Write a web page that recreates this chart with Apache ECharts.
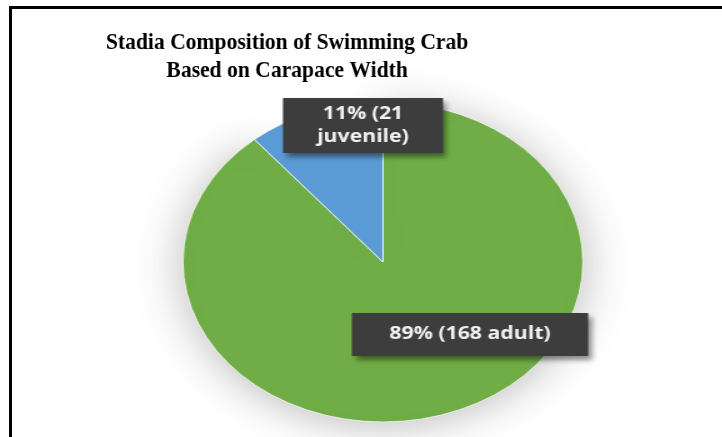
<!DOCTYPE html>
<html>
<head>
<meta charset="utf-8">
<script src="https://cdn.jsdelivr.net/npm/echarts@6/dist/echarts.min.js"></script>
<style>
  html, body { margin: 0; padding: 0; background: #fff; }
  #wrap { position: relative; width: 722px; height: 437px; overflow: hidden; }
  #frame { position: absolute; left: 9px; top: 6px; width: 760px; height: 480px;
           border-left: 3px solid #000; border-top: 3px solid #000; }
  /* the source picture is stretched sideways, so the pie is drawn wider than tall */
  #pie { position: absolute; left: 0; top: 0; width: 578px; height: 437px;
         transform: scaleX(1.25); transform-origin: 0 0; }
  /* title type in the source is tall and narrow */
  #title { position: absolute; left: 0; top: 0; width: 802px; height: 437px; pointer-events: none;
           transform: scaleX(0.9); transform-origin: 0 0; }
</style>
</head>
<body>
<div id="wrap">
  <div id="frame"></div>
  <div id="pie"></div>
  <div id="title"></div>
</div>
<script>
// data
var stages = ['adult', 'juvenile'];
var counts = [168, 21];
var colors = ['#70AD47', '#5B9BD5'];
var titleText = 'Stadia Composition of Swimming Crab\nBased on Carapace Width';

var total = counts.reduce(function (a, b) { return a + b; }, 0);

var pieData = stages.map(function (name, i) {
  var item = { name: name, value: counts[i], itemStyle: { color: colors[i] } };
  if (i === 0) {
    item.itemStyle.shadowBlur = 40;
    item.itemStyle.shadowColor = 'rgba(0,0,0,0.28)';
    item.itemStyle.shadowOffsetX = 0;
    item.itemStyle.shadowOffsetY = 4;
  }
  return item;
});

// where each data label box sits (chart pixels, before the sideways stretch)
var labelSpots = [
  { x: 376, y: 334.5, width: 169, padding: [10, 10] },
  { x: 290.4, y: 125.5, width: 110, padding: [4.5, 9] }
];

var pieChart = echarts.init(document.getElementById('pie'));
pieChart.setOption({
  backgroundColor: 'transparent',
  animation: false,
  series: [{
    type: 'pie',
    center: [306.4, 262],
    radius: 160,
    startAngle: 90,
    clockwise: true,
    percentPrecision: 0,
    itemStyle: { borderColor: 'rgba(255,255,255,0.7)', borderWidth: 1 },
    label: {
      show: true,
      position: 'inside',
      formatter: function (p) {
        var pct = Math.round(p.value / total * 100);
        return p.dataIndex === 1
          ? pct + '% (' + p.value + '\n' + p.name + ')'
          : pct + '% (' + p.value + ' ' + p.name + ')';
      },
      fontFamily: 'Open Sans',
      fontWeight: 'bold',
      fontSize: 17,
      lineHeight: 23,
      color: '#f2f2f2',
      backgroundColor: '#3d3d3d',
      shadowColor: 'rgba(0,0,0,0.45)',
      shadowBlur: 5,
      shadowOffsetX: 3,
      shadowOffsetY: 4
    },
    labelLine: { show: false },
    labelLayout: function (params) {
      var s = labelSpots[params.dataIndex];
      return { x: s.x, y: s.y, align: 'center', verticalAlign: 'middle' };
    },
    data: pieData.map(function (d, i) {
      d.label = { width: labelSpots[i].width, padding: labelSpots[i].padding, align: 'center' };
      return d;
    })
  }]
});

var titleChart = echarts.init(document.getElementById('title'));
titleChart.setOption({
  backgroundColor: 'transparent',
  title: {
    text: titleText,
    left: 314,
    top: 24,
    textAlign: 'center',
    textStyle: {
      fontFamily: 'Liberation Serif',
      fontWeight: 'bold',
      fontSize: 24,
      lineHeight: 28,
      color: '#000'
    }
  }
});
</script>
</body>
</html>
